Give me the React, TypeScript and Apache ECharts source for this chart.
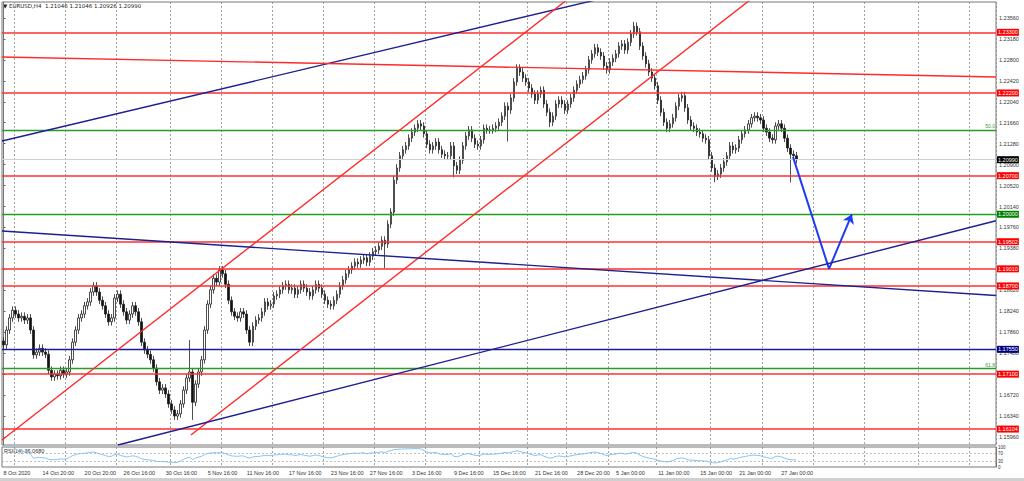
import React, { useEffect, useRef } from "react";
import * as echarts from "echarts";

// EURUSD H4 closes (1e-4 units) (one entry ~ 8h)
const closePips = [
  11763, 11790, 11812, 11826, 11819, 11812, 11815, 11808, 11812, 11790,
  11745, 11750, 11757, 11750, 11746, 11717, 11705, 11710, 11707, 11717,
  11710, 11714, 11736, 11768, 11790, 11812, 11819, 11834, 11841, 11859,
  11870, 11859, 11844, 11834, 11819, 11805, 11812, 11848, 11855, 11837,
  11823, 11808, 11819, 11834, 11823, 11805, 11768, 11754, 11746, 11736,
  11721, 11696, 11681, 11685, 11674, 11656, 11645, 11634, 11638, 11656,
  11681, 11703, 11714, 11659, 11692, 11714, 11736, 11790, 11837, 11863,
  11884, 11877, 11899, 11892, 11873, 11844, 11823, 11815, 11812, 11823,
  11819, 11790, 11768, 11797, 11808, 11812, 11823, 11841, 11834, 11837,
  11852, 11855, 11863, 11870, 11873, 11863, 11866, 11855, 11863, 11873,
  11866, 11859, 11852, 11863, 11873, 11866, 11855, 11844, 11837, 11834,
  11844, 11855, 11870, 11881, 11892, 11899, 11906, 11913, 11910, 11917,
  11921, 11913, 11924, 11932, 11935, 11942, 11953, 11946, 11982, 12004,
  12062, 12084, 12106, 12117, 12124, 12138, 12149, 12156, 12164, 12160,
  12146, 12127, 12117, 12124, 12131, 12117, 12109, 12106, 12106, 12124,
  12088, 12080, 12098, 12124, 12142, 12153, 12138, 12127, 12124, 12135,
  12156, 12153, 12153, 12156, 12160, 12167, 12178, 12196, 12189, 12211,
  12240, 12265, 12258, 12247, 12240, 12229, 12218, 12207, 12218, 12225,
  12200, 12185, 12167, 12178, 12200, 12207, 12200, 12189, 12200, 12211,
  12225, 12236, 12244, 12251, 12262, 12280, 12291, 12302, 12294, 12287,
  12269, 12262, 12276, 12283, 12291, 12305, 12309, 12298, 12312, 12327,
  12341, 12331, 12305, 12287, 12273, 12258, 12247, 12233, 12207, 12185,
  12167, 12156, 12164, 12175, 12196, 12211, 12215, 12193, 12171, 12160,
  12156, 12149, 12146, 12138, 12135, 12106, 12084, 12069, 12073, 12084,
  12095, 12106, 12124, 12117, 12120, 12135, 12146, 12153, 12164, 12175,
  12178, 12175, 12171, 12156, 12149, 12138, 12135, 12160, 12164, 12156,
  12138, 12120, 12109, 12106, 12099,
];
const FIRST_OPEN = 1.1770;
const WICK = 0.0007;
// notable wick extremes [bar, price]
const spikes: [number, number][] = [
  [62, 1.1772], [63, 1.1627], [127, 1.1902], [150, 1.2067], [168, 1.2132],
  [182, 1.2158], [210, 1.2349], [237, 1.2058], [262, 1.2058],
];
const TOTAL_BARS = 331;

const yTicks = [
  1.1596, 1.1634, 1.1672, 1.171, 1.1748, 1.1786, 1.1824, 1.1862, 1.19, 1.1938,
  1.1976, 1.2014, 1.2052, 1.209, 1.2128, 1.2166, 1.2204, 1.2242, 1.228, 1.2318, 1.2356,
];
const Y_MIN = 1.15815;
const Y_MAX = 1.2385;

const dateLabelIdx = [0, 13, 27, 40, 54, 68, 81, 95, 109, 122, 136, 150, 163, 177, 191, 204, 218, 232, 245, 259];
const dateLabels = [
  "8 Oct 2020", "14 Oct 20:00", "20 Oct 20:00", "26 Oct 16:00", "30 Oct 16:00",
  "5 Nov 16:00", "11 Nov 16:00", "17 Nov 16:00", "23 Nov 16:00", "27 Nov 16:00",
  "3 Dec 16:00", "9 Dec 16:00", "15 Dec 16:00", "21 Dec 16:00", "28 Dec 20:00",
  "5 Jan 00:00", "11 Jan 00:00", "15 Jan 00:00", "21 Jan 00:00", "27 Jan 00:00",
];
const gridLineIdx = [4, 21, 38, 56, 73, 90, 107, 124, 141, 159, 175, 188, 202, 218, 236, 253, 270, 287, 305, 322];

const redLevels = [1.233, 1.222, 1.207, 1.19502, 1.1901, 1.187, 1.171, 1.16104];
const greenLevels = [1.2];
const navyLevels = [1.1755];
const fibLevels: [number, string][] = [[1.2153, "50.0"], [1.1721, "61.8"]];
const LAST_PRICE = 1.2099;

// trend lines: [bar, price] -> [bar, price]
const trendLines: { from: [number, number]; to: [number, number]; color: string }[] = [
  { from: [-0.5, 1.21329], to: [198.6, 1.23905], color: "#1f1f8f" },
  { from: [-0.5, 1.22853], to: [330.5, 1.2249], color: "#ff2a2a" },
  { from: [-0.5, 1.15905], to: [188.0, 1.23905], color: "#ff2a2a" },
  { from: [62.4, 1.15996], to: [248.6, 1.23887], color: "#ff2a2a" },
  { from: [-0.5, 1.19696], to: [330.5, 1.18526], color: "#1f1f8f" },
  { from: [38.1, 1.15815], to: [330.5, 1.19883], color: "#1f1f8f" },
];
const arrowPts: [number, number][] = [[262.9, 1.2104], [274.9, 1.1901], [282.5, 1.2]];

const FONT = "Liberation Sans, Arial, sans-serif";

export default function App() {
  const ref = useRef<HTMLDivElement>(null);
  useEffect(() => {
    const chart = echarts.init(ref.current!, null, { renderer: "svg" });
    const closes = closePips.map((p) => p / 10000);
    const candles = closes.map((c, i) => {
      const o = i === 0 ? FIRST_OPEN : closes[i - 1];
      let lo = Math.min(o, c) - WICK;
      let hi = Math.max(o, c) + WICK;
      spikes.forEach(([k, p]) => {
        if (k === i) {
          if (p < lo) lo = p;
          if (p > hi) hi = p;
        }
      });
      return [o, c, lo, hi];
    });
    // RSI(14), Wilder smoothing
    const rsi: (number | null)[] = [];
    let ag = 0, al = 0;
    closes.forEach((c, i) => {
      if (i === 0) { rsi.push(null); return; }
      const ch = c - closes[i - 1];
      const g = Math.max(ch, 0), l = Math.max(-ch, 0);
      if (i <= 14) { ag = (ag * (i - 1) + g) / i; al = (al * (i - 1) + l) / i; }
      else { ag = (ag * 13 + g) / 14; al = (al * 13 + l) / 14; }
      rsi.push(al === 0 ? 100 : 100 - 100 / (1 + ag / al));
    });
    const cats = Array.from({ length: TOTAL_BARS }, (_, i) => {
      const k = dateLabelIdx.indexOf(i);
      return k >= 0 ? dateLabels[k] : "";
    });
    const gridSet = new Set(gridLineIdx);
    const vSplit = {
      show: true,
      interval: (i: number) => gridSet.has(i),
      lineStyle: { color: "#8a8a8a", type: [2, 2], width: 0.8 },
    };
    const boxLabel = (v: number, bg: string) => ({
      show: true, position: "end", distance: 1, formatter: v.toFixed(5),
      backgroundColor: bg, color: "#fff", fontSize: 5.5, fontFamily: FONT, padding: [1, 1, 0, 1],
    });
    const levelData: any[] = [];
    redLevels.forEach((v) => levelData.push({ yAxis: v, lineStyle: { color: "#ff3030", width: 1.6, type: "solid", opacity: 1 }, label: boxLabel(v, "#ff0000") }));
    greenLevels.forEach((v) => levelData.push({ yAxis: v, lineStyle: { color: "#22a022", width: 1.4, type: "solid" }, label: boxLabel(v, "#008000") }));
    navyLevels.forEach((v) => levelData.push({ yAxis: v, lineStyle: { color: "#1c1c9a", width: 1.4, type: "solid" }, label: boxLabel(v, "#000080") }));
    fibLevels.forEach(([v, t]) => levelData.push({
      yAxis: v, lineStyle: { color: "#2a9a2a", width: 1.3, type: "solid" },
      label: { show: true, position: "insideEndTop", distance: 1, formatter: t, color: "#3a9a3a", fontSize: 5, fontFamily: FONT },
    }));
    levelData.push({ yAxis: LAST_PRICE, lineStyle: { color: "#d0d0d0", width: 1, type: "solid" }, label: boxLabel(LAST_PRICE, "#000000") });

    const option: any = {
      animation: false,
      backgroundColor: "#ffffff",
      textStyle: { fontFamily: FONT },
      grid: [
        { left: 2, top: 2, width: 994, height: 443, show: true, borderColor: "#777", borderWidth: 1 },
        { left: 2, top: 447, width: 994, height: 20, show: true, borderColor: "#777", borderWidth: 1 },
      ],
      xAxis: [
        { type: "category", gridIndex: 0, data: cats, boundaryGap: true, axisLine: { show: false }, axisTick: { show: false }, axisLabel: { show: false }, splitLine: vSplit },
        {
          type: "category", gridIndex: 1, data: cats, boundaryGap: true, axisLine: { show: false }, axisTick: { show: false },
          axisLabel: { show: true, interval: 0, align: "left", fontSize: 5.5, color: "#333", margin: 3, fontFamily: FONT },
          splitLine: vSplit,
        },
        { type: "value", gridIndex: 0, min: -0.5, max: TOTAL_BARS - 0.5, show: false },
      ],
      yAxis: [
        {
          type: "value", gridIndex: 0, position: "right", min: Y_MIN, max: Y_MAX,
          axisLine: { show: true, lineStyle: { color: "#777" } },
          axisTick: { show: true, length: 2, customValues: yTicks, lineStyle: { color: "#666" } },
          axisLabel: { customValues: yTicks, formatter: (v: number) => v.toFixed(5), fontSize: 5.5, color: "#333", margin: 3, fontFamily: FONT },
          splitLine: { show: false },
        },
        {
          type: "value", gridIndex: 1, position: "right", min: 0, max: 100,
          axisLine: { show: true, lineStyle: { color: "#777" } },
          axisTick: { show: false },
          axisLabel: { customValues: [0, 30, 70, 100], fontSize: 4.5, color: "#333", margin: 2, fontFamily: FONT },
          splitLine: { show: false },
        },
      ],
      series: [
        {
          type: "candlestick", xAxisIndex: 0, yAxisIndex: 0, data: candles, barWidth: 2, z: 2,
          itemStyle: { color: "#ffffff", color0: "#111111", borderColor: "#222222", borderColor0: "#222222", borderWidth: 0.8 },
        },
        {
          type: "line", xAxisIndex: 0, yAxisIndex: 0, data: [], clip: false, z: 4,
          markLine: { silent: true, symbol: ["none", "none"], precision: 5, data: levelData, animation: false },
        },
        ...trendLines.map((t) => ({
          type: "line", xAxisIndex: 2, yAxisIndex: 0, data: [t.from, t.to], showSymbol: false, symbol: "none",
          clip: true, silent: true, z: 5, lineStyle: { color: t.color, width: 1.4 },
        })),
        {
          type: "line", xAxisIndex: 2, yAxisIndex: 0, data: [], z: 6, clip: false,
          markLine: {
            silent: true, symbol: ["none", "none"], symbolSize: 8, label: { show: false },
            lineStyle: { color: "#1f3cf5", width: 2, type: "solid" },
            data: [
              [{ coord: arrowPts[0] }, { coord: arrowPts[1] }],
              [{ coord: arrowPts[1] }, { coord: arrowPts[2], symbol: "arrow", symbolSize: 9 }],
            ],
          },
        },
        {
          type: "line", xAxisIndex: 1, yAxisIndex: 1, data: rsi, showSymbol: false, symbol: "none",
          lineStyle: { color: "#87c3f0", width: 1 },
          markLine: {
            silent: true, symbol: ["none", "none"], label: { show: false },
            lineStyle: { color: "#b0b0b0", type: [2, 2], width: 0.8 },
            data: [{ yAxis: 70 }, { yAxis: 30 }],
          },
        },
      ],
      graphic: [
        { type: "text", left: 3, top: 3, style: { text: "▼ EURUSD,H4  1.21046 1.21046 1.20926 1.20990", fontSize: 5.5, fill: "#222", fontFamily: "DejaVu Sans, Liberation Sans, sans-serif" } },
        { type: "text", left: 4, top: 448, style: { text: "RSI(14) 36.0680", fontSize: 5.5, fill: "#333", fontFamily: FONT } },
        { type: "rect", left: 0, top: 478, shape: { width: 1024, height: 3 }, style: { fill: "#d0d0d0" } },
      ],
    };
    chart.setOption(option);
    return () => chart.dispose();
  }, []);
  return <div ref={ref} style={{ position: "absolute", left: 0, top: 0, width: 1024, height: 481 }} />;
}
